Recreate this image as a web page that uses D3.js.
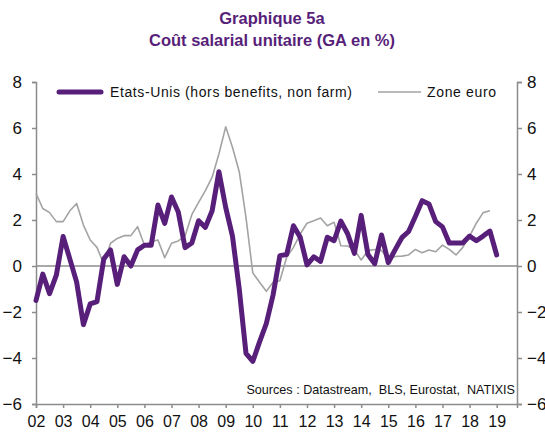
<!DOCTYPE html>
<html>
<head>
<meta charset="utf-8">
<script src="https://cdn.jsdelivr.net/npm/d3@7"></script>
<style>
  body { margin: 0; background: #fff; }
  text { font-family: "Liberation Sans", Arial, sans-serif; }
</style>
</head>
<body>
<div id="chart"></div>
<script>
// quarterly series, 2002Q1 onwards (GA en %)
var usValues = [
  -1.5, -0.35, -1.2, -0.4, 1.28, 0.3, -0.7, -2.55, -1.65, -1.55,
  0.3, 0.7, -0.8, 0.4, 0.0, 0.7, 0.9, 0.9, 2.65, 1.85,
  3.0, 2.35, 0.8, 1.0, 1.97, 1.68, 2.4, 4.1, 2.55, 1.3,
  -1.0, -3.8, -4.15, -3.3, -2.5, -1.25, 0.45, 0.5, 1.75, 1.25,
  0.05, 0.4, 0.2, 1.25, 1.1, 1.95, 1.4, 0.55, 2.2, 0.5,
  0.1, 1.35, 0.15, 0.7, 1.23, 1.5, 2.15, 2.84, 2.7, 1.93,
  1.7, 1.0, 1.0, 1.0, 1.3, 1.1, 1.3, 1.52, 0.48
];
var euroValues = [
  3.16, 2.5, 2.32, 1.93, 1.93, 2.4, 2.72, 1.78, 1.13, 0.81,
  0.09, 0.99, 1.2, 1.32, 1.32, 1.71, 0.91, 1.06, 1.13, 0.36,
  0.99, 1.09, 1.3, 2.23, 2.77, 3.28, 3.86, 4.87, 6.05, 5.16,
  4.1, 2.1, -0.3, -0.71, -1.1, -0.71, -0.64, 0.38, 0.81, 1.39,
  1.86, 1.97, 2.09, 1.75, 1.9, 0.88, 0.87, 0.7, 0.26, 0.67,
  0.72, 0.67, 0.29, 0.41, 0.43, 0.48, 0.72, 0.58, 0.7, 0.62,
  0.91, 0.72, 0.48, 0.81, 1.3, 1.86, 2.32, 2.4
];
var yearLabels = ["02","03","04","05","06","07","08","09","10","11",
                  "12","13","14","15","16","17","18","19"];
var yTicks = [8, 6, 4, 2, 0, -2, -4, -6];

var width = 545, height = 434;
var purple = "#581f7a";
var grey = "#a3a3a3";
var axisCol = "#8c8c8c";

var svg = d3.select("#chart").append("svg")
  .attr("width", width)
  .attr("height", height);

// 72 quarter slots on the category axis (2002Q1..2019Q4)
var x = d3.scaleLinear().domain([0, 71]).range([36, 517]);
var y = d3.scaleLinear().domain([-6, 8]).range([404, 82]);

// title
svg.append("text")
  .attr("x", 272).attr("y", 24)
  .attr("text-anchor", "middle")
  .attr("font-size", 16.5).attr("font-weight", "bold")
  .attr("fill", purple)
  .text("Graphique 5a");
svg.append("text")
  .attr("x", 272).attr("y", 46)
  .attr("text-anchor", "middle")
  .attr("font-size", 16.5).attr("font-weight", "bold")
  .attr("fill", purple)
  .text("Coût salarial unitaire (GA en %)");

// left axis
var leftAxis = d3.axisLeft(y).tickValues(yTicks).tickSize(4).tickPadding(10)
  .tickFormat(d3.format("d"));
var gl = svg.append("g").attr("transform", "translate(" + x(0) + ",0)").call(leftAxis);

// right axis
var rightAxis = d3.axisRight(y).tickValues(yTicks).tickSize(5).tickPadding(5)
  .tickFormat(d3.format("d"));
var gr = svg.append("g").attr("transform", "translate(" + x(71) + ",0)").call(rightAxis);

// bottom axis, one tick per year (Q1)
var bottomAxis = d3.axisBottom(x)
  .tickValues(yearLabels.map((d, i) => i * 4))
  .tickSize(4).tickPadding(6)
  .tickFormat((d, i) => yearLabels[i]);
var gb = svg.append("g").attr("transform", "translate(0," + y(-6) + ")").call(bottomAxis);

[gl, gr, gb].forEach(function (g) {
  g.select(".domain").attr("stroke", axisCol).attr("stroke-width", 1.5);
  g.selectAll(".tick line").attr("stroke", axisCol).attr("stroke-width", 1.5);
  g.selectAll(".tick text")
    .attr("font-family", "Liberation Sans, Arial, sans-serif")
    .attr("font-size", 16).attr("fill", "#111");
});
gl.selectAll(".tick text").attr("font-size", 17);
gr.selectAll(".tick text").attr("font-size", 17);
gb.selectAll(".tick text").attr("dy", "0.8em");

// zero line
svg.append("line")
  .attr("x1", x(0)).attr("x2", x(71))
  .attr("y1", y(0)).attr("y2", y(0))
  .attr("stroke", axisCol).attr("stroke-width", 1.5);

var line = d3.line()
  .x((d, i) => x(i))
  .y(d => y(d));

// zone euro
svg.append("path")
  .datum(euroValues)
  .attr("fill", "none")
  .attr("stroke", grey)
  .attr("stroke-width", 1.6)
  .attr("stroke-linejoin", "round")
  .attr("d", line);

// Etats-Unis
svg.append("path")
  .datum(usValues)
  .attr("fill", "none")
  .attr("stroke", purple)
  .attr("stroke-width", 5)
  .attr("stroke-linejoin", "round")
  .attr("stroke-linecap", "round")
  .attr("d", line);

// legend
svg.append("line")
  .attr("x1", 59).attr("x2", 101).attr("y1", 92).attr("y2", 92)
  .attr("stroke", purple).attr("stroke-width", 5).attr("stroke-linecap", "round");
svg.append("text")
  .attr("x", 110).attr("y", 97)
  .attr("font-size", 14).attr("fill", "#111")
  .attr("textLength", 242).attr("lengthAdjust", "spacing")
  .text("Etats-Unis (hors benefits, non farm)");
svg.append("line")
  .attr("x1", 378).attr("x2", 421).attr("y1", 92).attr("y2", 92)
  .attr("stroke", grey).attr("stroke-width", 1.6);
svg.append("text")
  .attr("x", 427).attr("y", 97)
  .attr("font-size", 14).attr("fill", "#111")
  .attr("textLength", 69).attr("lengthAdjust", "spacing")
  .text("Zone euro");

// sources
svg.append("text")
  .attr("x", 515).attr("y", 394)
  .attr("text-anchor", "end")
  .attr("font-size", 12.6).attr("fill", "#111")
  .attr("xml:space", "preserve")
  .text("Sources : Datastream,  BLS, Eurostat,  NATIXIS");
</script>
</body>
</html>
